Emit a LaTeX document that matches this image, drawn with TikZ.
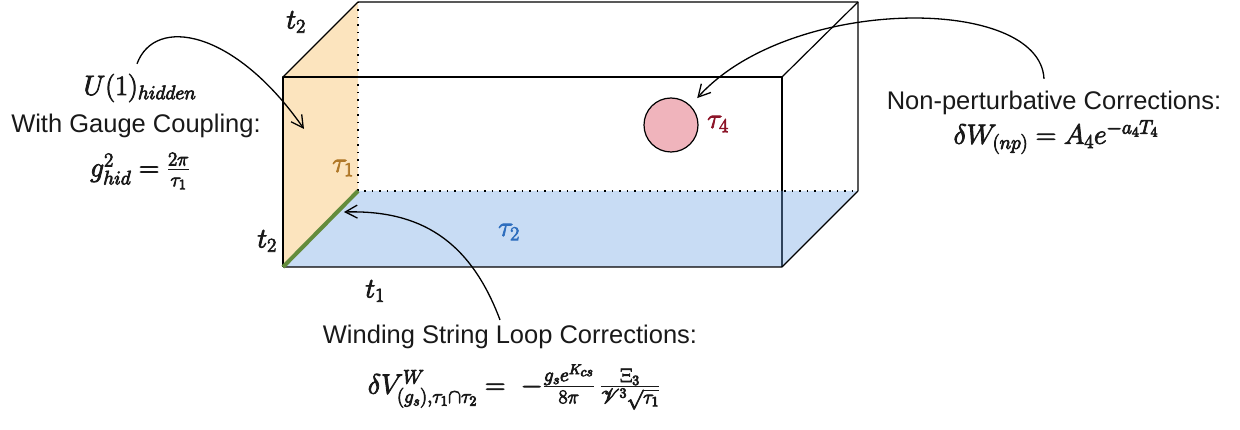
\documentclass[tikz,border=0pt]{standalone}
\usepackage{fix-cm}
\usepackage[no-math]{fontspec}
\setmainfont{Liberation Sans}
\usepackage{amsmath,amssymb}
\usepackage{mathrsfs}
\usetikzlibrary{arrows.meta}
\newcommand{\heavytext}[1]{\special{pdf:literal direct 2 Tr 0.8 w}#1\special{pdf:literal direct 0 Tr}}
\definecolor{faceorange}{RGB}{252,228,190}
\definecolor{faceblue}{RGB}{118,168,228}
\definecolor{edgegreen}{RGB}{100,140,60}
\definecolor{circlepink}{RGB}{240,180,188}
\definecolor{tauone}{RGB}{176,120,40}
\definecolor{tautwo}{RGB}{46,110,190}
\definecolor{taufour}{RGB}{140,20,40}
\definecolor{textgray}{RGB}{25,25,25}
\tikzset{
  edge/.style={line width=1.2pt, line join=round},
  hiddenedge/.style={line width=1.5pt, dash pattern=on 1.5pt off 6pt},
  conn/.style={line width=1.3pt, -{Straight Barb[length=12pt,width=13pt,line width=1.3pt]}},
  mathlbl/.style={font=\fontsize{28}{33}\selectfont, inner sep=1pt, text=textgray},
  caption/.style={font=\fontsize{25.5}{30}\selectfont, inner sep=1pt, text=textgray},
}
\begin{document}
\begin{tikzpicture}[x=1pt,y=-1pt]
\useasboundingbox (0,0) rectangle (1240,430);
% box corners
\coordinate (A) at (283,77);
\coordinate (B) at (782,77);
\coordinate (C) at (782,267);
\coordinate (D) at (283,267);
\coordinate (E) at (358,2);
\coordinate (F) at (858,2);
\coordinate (G) at (858,191);
\coordinate (H) at (358,191);
% faces and edges
\fill[faceorange] (A) -- (E) -- (H) -- (D) -- cycle;
\draw[edge] (D) -- (A) -- (B) -- (C);
\draw[edge] (A) -- (E) -- (F) -- (G);
\draw[edge] (B) -- (F);
\fill[faceblue, fill opacity=0.4] (D) -- (H) -- (G) -- (C) -- cycle;
\draw[hiddenedge] (E) -- (H) -- (G);
\draw[edge] (D) -- (C) -- (G);
\draw[edgegreen, line width=4pt] (D) -- (H);
% circle
\node[circle, draw, line width=1.2pt, fill=circlepink, minimum size=54pt, inner sep=0pt] (c4) at (671,125) {};
% labels on the box
\node[mathlbl] (t2top) at (296,22) {\heavytext{$t_2$}};
\node[mathlbl] (t2left) at (267,241) {\heavytext{$t_2$}};
\node[mathlbl] (t1) at (375,291) {\heavytext{$t_1$}};
\node[mathlbl, text=tauone] (tau1) at (343,168) {\heavytext{$\tau_1$}};
\node[mathlbl, text=tautwo] (tau2) at (509,232) {\heavytext{$\tau_2$}};
\node[mathlbl, text=taufour] (tau4) at (718,124) {\heavytext{$\tau_4$}};
% left text
\node[mathlbl] (u1) at (140,88) {\heavytext{$U(1)_{hidden}$}};
\node[caption] (wgc) at (136,126) {With Gauge Coupling:};
\node[mathlbl] (ghid) at (140,171) {\heavytext{$g^2_{hid} = \frac{2\pi}{\tau_1}$}};
% right text
\node[caption] (npc) at (1054,103) {Non-perturbative Corrections:};
\node[mathlbl] (dw) at (1056,137) {\heavytext{$\delta W_{(np)} = A_4 e^{-a_4 T_4}$}};
% bottom text
\node[caption] (wsl) at (510,337) {Winding String Loop Corrections:};
\node[mathlbl] (dv) at (514,387) {\heavytext{$\delta V^{W}_{(g_s),\tau_1\cap\tau_2} = \;-\frac{g_s e^{K_{cs}}}{8\pi}\,\frac{\Xi_3}{\mathscr{V}^3\sqrt{\tau_1}}$}};
% connector ends
\coordinate (a1e) at (304,129);
\coordinate (a3e) at (344,212);
% connectors
\draw[conn] ([xshift=-3pt,yshift=9pt]u1.north) .. controls (155,15) and (235,30) .. (a1e);
\draw[conn, shorten >=10pt] ([xshift=-10pt,yshift=11pt]npc.north) .. controls (1040,-5) and (790,-5) .. (c4.north east);
\draw[conn] ([xshift=-10pt,yshift=4pt]wsl.north) .. controls (470,240) and (420,210) .. (a3e);
\end{tikzpicture}
\end{document}
